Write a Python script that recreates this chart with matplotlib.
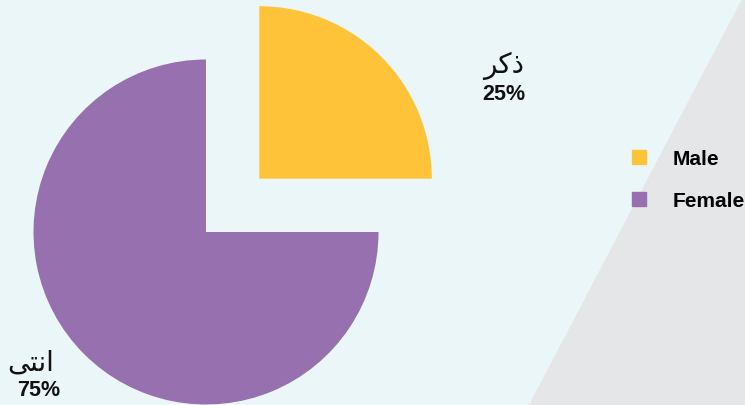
import matplotlib
matplotlib.use("Agg")
import matplotlib.pyplot as plt
from matplotlib.patches import Polygon
from matplotlib.lines import Line2D

# data
categories = ["Male", "Female"]
values = [25, 75]
# arabic labels, already in display order with presentation forms (no shaping in matplotlib)
arabic_labels = ["\uFEAE\uFEDB\uFEAB", "\uFEF0\uFE98\uFEE7\uFE8D"]  # ذكر , انثى
colors = ["#FFC33A", "#9670AF"]

W, H = 745, 406
bg = "#EAF6F8"
grey = "#E5E6E8"
narrow = ["Liberation Sans Narrow", "Liberation Sans", "DejaVu Sans"]

fig = plt.figure(figsize=(W / 100, H / 100), dpi=100)
fig.patch.set_facecolor(bg)
fig.patches.append(Polygon([(742 / W, 1), (1, 1), (1, 0), (529 / W, 0)],
                           closed=True, transform=fig.transFigure,
                           facecolor=grey, edgecolor="none", zorder=0))

ax = fig.add_axes([0, 0, 1, 1])
ax.set_facecolor("none")

# pie centre at (206, 233) px, radius 172 px
scale = 172.5
cx, cy = 206, 233

total = sum(values)
wedges, _ = ax.pie(values, colors=colors, startangle=90, counterclock=False,
                   explode=[0.437, 0], radius=1, frame=True,
                   wedgeprops=dict(linewidth=0))
ax.set_xlim(-cx / scale, (W - cx) / scale)
ax.set_ylim(-(H - cy) / scale, cy / scale)
ax.axis("off")


def px(x, y):
    return (x - cx) / scale, (cy - y) / scale


# data labels: (arabic centre, percent centre) in pixels
label_pos = [((504, 66), (504, 95)),
             ((31, 363), (39, 391))]
for (apos, ppos), ar, v in zip(label_pos, arabic_labels, values):
    pct = "%d%%" % round(100 * v / total)
    ax.text(*px(*apos), ar, ha="center", va="center", fontsize=20,
            family="DejaVu Sans", color="#111111")
    ax.text(*px(*ppos), pct, ha="center", va="center", fontsize=15.5,
            family=narrow, fontweight="bold", color="#111111")

handles = [Line2D([], [], marker="s", linestyle="", markersize=10, color=c)
           for c in colors]
leg = fig.legend(handles, categories, loc="upper left",
                 bbox_to_anchor=(628.6 / W, 1 - 150 / H),
                 frameon=False, borderpad=0, borderaxespad=0,
                 handlelength=1.0, handletextpad=1.1, labelspacing=1.11,
                 prop=dict(family=narrow, weight="bold", size=15))

fig.savefig("out.png", dpi=100, facecolor=bg)
